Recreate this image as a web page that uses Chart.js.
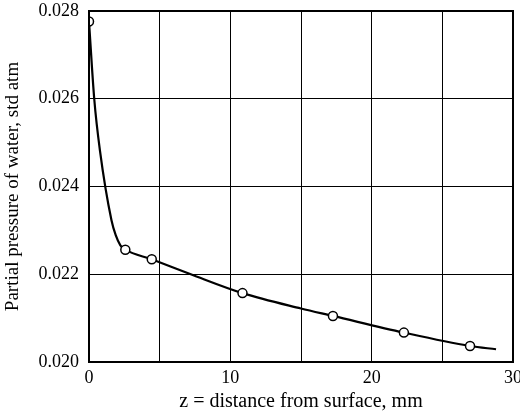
<!DOCTYPE html>
<html>
<head>
<meta charset="utf-8">
<script src="https://cdn.jsdelivr.net/npm/chart.js@4.4.0/dist/chart.umd.min.js"></script>
<style>
    html, body { margin: 0; padding: 0; background: #fff; }
    #wrap { width: 520px; height: 414px; }
</style>
</head>
<body>
<div id="wrap"><canvas id="chart" width="520" height="414"></canvas></div>
<script>
// Measured points (open circles)
const markerZ = [0, 2.57, 4.44, 10.86, 17.26, 22.28, 26.96];
const markerP = [0.02776, 0.02256, 0.02234, 0.02157, 0.02105, 0.02067, 0.020365];

// Smooth curve traced through the data
const curveZ = [0, 0.37, 0.77, 1.59, 1.89, 2.22, 2.57, 4.44, 7.2, 10.86, 15, 17.26, 22.28, 26.96, 28.8];
const curveP = [0.02776, 0.0260, 0.02483, 0.02323, 0.02289, 0.02266, 0.02256, 0.02234, 0.0220, 0.02157, 0.02122, 0.02105, 0.02067, 0.020365, 0.02029];

const xLabels = [0, 10, 20, 30];
const FONT = 'Liberation Serif, Times New Roman, serif';

const frame = {
    id: 'frame',
    afterDraw(chart) {
        const a = chart.chartArea;
        const ctx = chart.ctx;
        ctx.save();
        ctx.strokeStyle = '#000';
        ctx.lineWidth = 2;
        ctx.strokeRect(a.left, a.top, a.right - a.left, a.bottom - a.top);
        ctx.restore();
    }
};

new Chart(document.getElementById('chart').getContext('2d'), {
    type: 'scatter',
    data: {
        datasets: [
            {
                label: 'curve',
                data: curveZ.map((z, i) => ({ x: z, y: curveP[i] })),
                showLine: true,
                borderColor: '#000',
                borderWidth: 2.2,
                pointRadius: 0,
                cubicInterpolationMode: 'monotone',
                order: 2
            },
            {
                label: 'data',
                data: markerZ.map((z, i) => ({ x: z, y: markerP[i] })),
                showLine: false,
                pointRadius: 4.5,
                pointBackgroundColor: '#fff',
                pointBorderColor: '#000',
                pointBorderWidth: 1.5,
                order: 1
            }
        ]
    },
    options: {
        responsive: false,
        animation: false,
        layout: { padding: { top: 11, right: 7, left: 0, bottom: 0 } },
        plugins: { legend: { display: false }, tooltip: { enabled: false } },
        scales: {
            x: {
                type: 'linear',
                min: 0, max: 30,
                ticks: {
                    stepSize: 5,
                    color: '#000',
                    font: { family: FONT, size: 18 },
                    padding: 5,
                    maxRotation: 0,
                    callback: v => xLabels.includes(v) ? String(v) : ''
                },
                grid: { color: '#000', lineWidth: 1, drawTicks: false },
                border: { display: false },
                title: {
                    display: true,
                    text: 'z = distance from surface, mm',
                    color: '#000',
                    font: { family: FONT, size: 20 },
                    padding: { top: 0, bottom: 0 }
                },
                afterFit: s => { s.height = 52; s.paddingLeft = 0; s.paddingRight = 0; }
            },
            y: {
                type: 'linear',
                min: 0.020, max: 0.028,
                ticks: {
                    stepSize: 0.002,
                    color: '#000',
                    font: { family: FONT, size: 18 },
                    padding: 10,
                    callback: v => v.toFixed(3)
                },
                grid: { color: '#000', lineWidth: 1, drawTicks: false },
                border: { display: false },
                title: {
                    display: true,
                    text: 'Partial pressure of water, std atm',
                    color: '#000',
                    font: { family: FONT, size: 19 },
                    padding: { top: 2, bottom: 8 }
                },
                afterFit: s => { s.width = 89; s.paddingTop = 0; s.paddingBottom = 0; }
            }
        }
    },
    plugins: [frame]
});
</script>
</body>
</html>
